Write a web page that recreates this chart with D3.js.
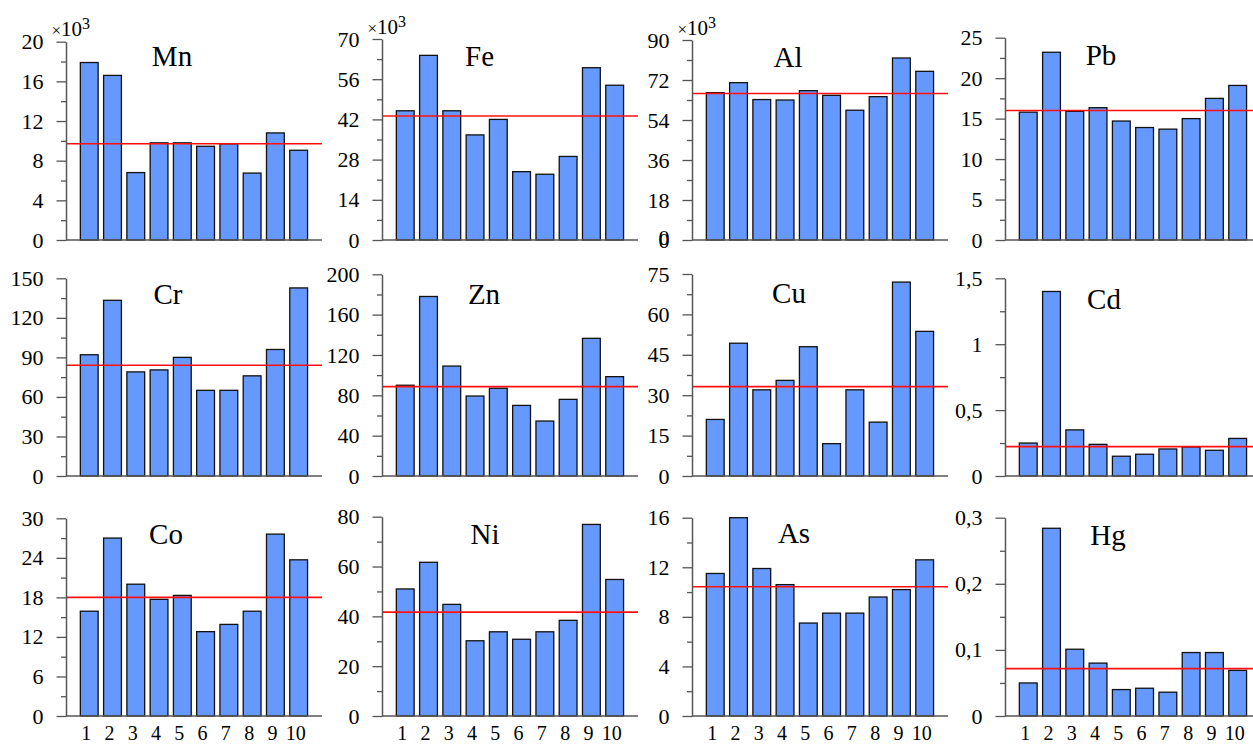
<!DOCTYPE html>
<html>
<head>
<meta charset="utf-8">
<script src="https://cdn.jsdelivr.net/npm/d3@7"></script>
<style>
  body { margin: 0; background: #fff; }
  svg { display: block; }
  text { font-family: "Liberation Serif", "Times New Roman", Times, serif; fill: #000; }
</style>
</head>
<body>
<svg id="chart" width="1253" height="745"></svg>
<script>
// Sample sites shown along the x axis
const sampleLabels = ["1", "2", "3", "4", "5", "6", "7", "8", "9", "10"];

// Element names, one panel each (4 columns x 3 rows)
const elementNames = ["Mn", "Fe", "Al", "Pb", "Cr", "Zn", "Cu", "Cd", "Co", "Ni", "As", "Hg"];

// Concentrations per sample (Mn, Fe, Al in thousands)
const mnValues = [17.9, 16.6, 6.8, 9.8, 9.8, 9.45, 9.7, 6.75, 10.8, 9.05];
const feValues = [45.0, 64.3, 45.0, 36.6, 42.0, 23.8, 22.9, 29.1, 60.0, 53.9];
const alValues = [66.3, 70.8, 63.2, 63.0, 67.2, 65.1, 58.4, 64.5, 81.9, 75.9];
const pbValues = [15.8, 23.2, 15.9, 16.35, 14.7, 13.9, 13.7, 15.0, 17.5, 19.1];
const crValues = [92, 133.3, 79, 80.5, 90, 65, 65, 76, 96, 142.7];
const znValues = [90, 178, 109, 79.3, 87, 70, 54.5, 76, 136.5, 98.5];
const cuValues = [21, 49.3, 32, 35.5, 48, 12, 32, 20, 72, 53.7];
const cdValues = [0.25, 1.4, 0.35, 0.24, 0.15, 0.165, 0.205, 0.22, 0.195, 0.285];
const coValues = [15.9, 27.0, 20.0, 17.7, 18.3, 12.8, 13.9, 15.9, 27.6, 23.7];
const niValues = [51, 61.7, 44.8, 30.2, 33.8, 30.8, 33.8, 38.4, 76.9, 54.8];
const asValues = [11.5, 16.0, 11.9, 10.6, 7.5, 8.3, 8.3, 9.6, 10.2, 12.6];
const hgValues = [0.05, 0.284, 0.101, 0.08, 0.04, 0.042, 0.036, 0.096, 0.096, 0.069];

const elementValues = [mnValues, feValues, alValues, pbValues, crValues, znValues,
                       cuValues, cdValues, coValues, niValues, asValues, hgValues];

// Reference level drawn as the red horizontal line in each panel
const referenceLevels = [9.7, 43.2, 65.9, 16.0, 84.0, 88.6, 33.2, 0.223, 18.0, 41.7, 10.43, 0.0716];

// Y axis extents and major tick steps
const axisMaxima = [20, 70, 90, 25, 150, 200, 75, 1.5, 30, 80, 16, 0.3];
const tickSteps  = [4, 14, 18, 5, 30, 40, 15, 0.5, 6, 20, 4, 0.1];
const thousandScaled = [true, true, true, false, false, false, false, false, false, false, false, false];

// ---- layout ----
const colAxisX = [66, 382, 692, 1005];
const rowZeroY = [240, 476, 716];
const panelTopY = [41.7, 39, 40, 37.7, 278.3, 274.3, 274, 278.3, 518.3, 516.7, 517.7, 517.7];
const titleOffsetX = [106, 97.5, 96, 96, 102, 102, 97, 99, 100, 103, 102, 103];
const titleBaseY = [66, 66, 67, 65, 304, 304, 303, 309, 544, 544, 543, 545];
const plotWidth = 256;
const serifStack = '"Liberation Serif", "Times New Roman", Times, serif';

const svg = d3.select("#chart");

const fmtTick = v => String(+v.toFixed(3)).replace(".", ",");

elementNames.forEach((name, i) => {
  const col = i % 4, row = Math.floor(i / 4);
  const x0 = colAxisX[col];
  const yZero = rowZeroY[row];
  const yTop = panelTopY[i];
  const vals = elementValues[i];

  const y = d3.scaleLinear().domain([0, axisMaxima[i]]).range([yZero, yTop]);
  const x = d3.scaleBand().domain(sampleLabels)
    .range([x0 + 11.6, x0 + 244.3])
    .paddingInner(0.235).paddingOuter(0.1175);

  const g = svg.append("g").attr("class", "panel");

  // bars
  g.selectAll("rect.bar").data(vals).enter().append("rect")
    .attr("class", "bar")
    .attr("x", (d, k) => x(sampleLabels[k]))
    .attr("y", d => y(d))
    .attr("width", x.bandwidth())
    .attr("height", d => yZero - y(d))
    .attr("fill", "#6699ff")
    .attr("stroke", "#111")
    .attr("stroke-width", 1.3);

  // baseline
  g.append("line")
    .attr("x1", x0).attr("x2", x0 + plotWidth)
    .attr("y1", yZero).attr("y2", yZero)
    .attr("stroke", "#555").attr("stroke-width", 1.5);

  // reference line
  g.append("line")
    .attr("x1", x0).attr("x2", x0 + plotWidth)
    .attr("y1", y(referenceLevels[i])).attr("y2", y(referenceLevels[i]))
    .attr("stroke", "#ff1010").attr("stroke-width", 1.6);

  // y axis: major ticks with labels
  const step = tickSteps[i];
  const major = d3.range(0, axisMaxima[i] + step / 2, step).map(v => +v.toFixed(4));
  const minor = major.slice(0, -1).map(v => +(v + step / 2).toFixed(4));

  const axisG = g.append("g").attr("transform", `translate(${x0},0)`)
    .call(d3.axisLeft(y).tickValues(major).tickSize(9.5).tickSizeOuter(0)
      .tickPadding(13).tickFormat(fmtTick))
    .attr("font-family", serifStack).attr("font-size", 22);
  axisG.select(".domain").attr("stroke", "#555").attr("stroke-width", 1.5);
  axisG.selectAll(".tick line").attr("stroke", "#555").attr("stroke-width", 1.3);
  axisG.selectAll(".tick text")
    .style("font-family", serifStack)
    .style("font-size", "22px").attr("fill", "#000");

  const minorG = g.append("g").attr("transform", `translate(${x0},0)`)
    .call(d3.axisLeft(y).tickValues(minor).tickSize(5).tickFormat(""));
  minorG.select(".domain").remove();
  minorG.selectAll(".tick line").attr("stroke", "#555").attr("stroke-width", 1.3);

  // Al axis carries a second zero label just above the first
  if (name === "Al") {
    g.append("text")
      .attr("x", x0 - 22.5).attr("y", y(0) - 2.5).attr("dy", "0.32em")
      .attr("text-anchor", "end").style("font-size", "22px").text("0");
  }

  // multiplier label
  if (thousandScaled[i]) {
    const t = g.append("text").attr("x", x0 - 14.5).attr("y", yTop - 5.5);
    t.append("tspan").style("font-size", "17px").text("×");
    t.append("tspan").style("font-size", "21px").text("10");
    t.append("tspan").attr("dy", -7).style("font-size", "16px").text("3");
  }

  // panel title
  g.append("text")
    .attr("x", x0 + titleOffsetX[i]).attr("y", titleBaseY[i])
    .attr("text-anchor", "middle").style("font-size", "29px").text(name);

  // sample labels under the bottom row
  if (row === 2) {
    g.selectAll("text.xlab").data(sampleLabels).enter().append("text")
      .attr("class", "xlab")
      .attr("x", d => x(d) + x.bandwidth() / 2 - 3)
      .attr("y", 740)
      .attr("text-anchor", "middle").style("font-size", "20px").text(d => d);
  }
});
</script>
</body>
</html>
